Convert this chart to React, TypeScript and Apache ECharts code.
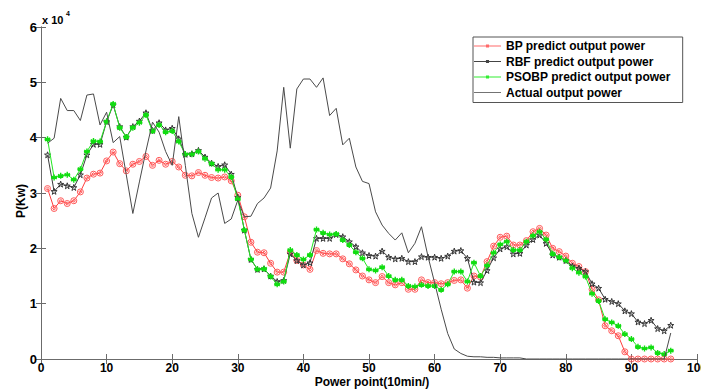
import React, { useEffect, useRef } from "react";
import * as echarts from "echarts";

// Power values in units of 10^4 kW, sample points 1..96 (10-min intervals)
const bpPower = [
  3.08, 2.72, 2.86, 2.81, 2.86, 3.02, 3.27, 3.34, 3.36, 3.58,
  3.74, 3.53, 3.40, 3.52, 3.57, 3.66, 3.50, 3.59, 3.52, 3.57,
  3.47, 3.32, 3.31, 3.37, 3.32, 3.28, 3.27, 3.29, 3.22, 2.96,
  2.57, 2.11, 1.93, 1.92, 1.73, 1.57, 1.57, 1.93, 1.78, 1.70,
  1.62, 1.96, 1.91, 1.90, 1.90, 1.81, 1.72, 1.61, 1.50, 1.43,
  1.38, 1.49, 1.38, 1.34, 1.38, 1.26, 1.26, 1.43, 1.38, 1.38,
  1.36, 1.38, 1.42, 1.43, 1.28, 1.50, 1.48, 1.76, 2.04, 2.20,
  2.22, 2.06, 2.06, 2.14, 2.30, 2.36, 2.24, 2.00, 1.94, 1.86,
  1.73, 1.67, 1.58, 1.26, 1.07, 0.60, 0.51, 0.42, 0.13, 0,
  0, 0, 0, 0, 0, 0,
];

const rbfPower = [
  3.69, 3.03, 3.16, 3.13, 3.10, 3.33, 3.69, 3.88, 3.88, 4.29,
  4.59, 4.20, 4.01, 4.20, 4.30, 4.45, 4.13, 4.27, 4.14, 4.17,
  3.98, 3.70, 3.71, 3.77, 3.65, 3.54, 3.48, 3.51, 3.34, 2.92,
  2.33, 1.80, 1.62, 1.63, 1.50, 1.40, 1.42, 1.90, 1.78, 1.70,
  1.74, 2.18, 2.18, 2.18, 2.25, 2.21, 2.12, 2.03, 1.92, 1.87,
  1.86, 1.95, 1.84, 1.81, 1.82, 1.76, 1.76, 1.85, 1.84, 1.84,
  1.82, 1.86, 1.95, 1.96, 1.82, 1.39, 1.38, 1.60, 1.83, 1.99,
  2.03, 1.90, 1.91, 2.06, 2.16, 2.24, 2.09, 1.88, 1.84, 1.78,
  1.68, 1.64, 1.58, 1.36, 1.28, 1.08, 1.04, 1.00, 0.87, 0.82,
  0.67, 0.64, 0.70, 0.55, 0.51, 0.61,
];

const psobpPower = [
  3.97, 3.28, 3.31, 3.33, 3.24, 3.43, 3.75, 3.94, 3.93, 4.29,
  4.61, 4.18, 4.01, 4.18, 4.27, 4.41, 4.12, 4.23, 4.10, 4.12,
  3.93, 3.70, 3.70, 3.75, 3.62, 3.53, 3.42, 3.42, 3.29, 2.89,
  2.33, 1.80, 1.62, 1.63, 1.49, 1.35, 1.40, 1.97, 1.88, 1.80,
  1.88, 2.34, 2.28, 2.25, 2.26, 2.15, 2.06, 1.93, 1.82, 1.62,
  1.60, 1.66, 1.50, 1.43, 1.43, 1.32, 1.31, 1.34, 1.32, 1.32,
  1.25, 1.35, 1.58, 1.58, 1.40, 1.74, 1.50, 1.69, 1.92, 2.07,
  2.12, 1.97, 1.97, 2.12, 2.23, 2.30, 2.16, 1.90, 1.84, 1.78,
  1.64, 1.56, 1.49, 1.18, 1.05, 0.72, 0.66, 0.60, 0.45, 0.36,
  0.22, 0.19, 0.21, 0.11, 0.09, 0.15,
];

const actualPower = [
  3.90, 3.99, 4.71, 4.49, 4.49, 4.31, 4.77, 4.79, 4.23, 4.46,
  3.91, 4.02, 3.33, 2.63, 3.20, 3.76, 4.28, 4.10, 3.75, 3.50,
  4.38, 3.50, 2.63, 2.20, 2.55, 2.91, 3.00, 2.45, 2.53, 2.87,
  2.57, 2.58, 2.81, 2.91, 3.09, 3.76, 4.91, 3.81, 4.88, 5.06,
  5.06, 4.91, 5.08, 4.40, 4.53, 3.87, 3.99, 3.47, 3.21, 3.17,
  2.66, 2.42, 2.27, 2.15, 2.28, 1.92, 2.09, 2.39, 1.85, 1.38,
  0.90, 0.46, 0.18, 0.10, 0.05, 0.04, 0.04, 0.03, 0.03, 0.02,
  0.02, 0.02, 0.02, 0, 0, 0, 0, 0, 0, 0,
  0, 0, 0, 0, 0, 0, 0, 0, 0, 0,
  0, 0, 0, 0, 0, 0.47,
];

const seriesNames = [
  "BP predict output power",
  "RBF predict output power",
  "PSOBP predict output power",
  "Actual output power",
];

const FONT = "'Liberation Sans', Arial, sans-serif";

const circleMark =
  "path://M0,-1 A1,1 0 1,1 0,1 A1,1 0 1,1 0,-1 Z M0,-0.55 L0.55,0 L0,0.55 L-0.55,0 Z";
const starMark =
  "path://M0,-1 L0.223,-0.307 L0.951,-0.309 L0.361,0.117 L0.588,0.809 L0,0.38 L-0.588,0.809 L-0.361,0.117 L-0.951,-0.309 L-0.223,-0.307 Z";
const asteriskMark =
  "path://M0,-1 L0,1 M-0.87,-0.5 L0.87,0.5 M-0.87,0.5 L0.87,-0.5 M-1,0 L1,0";

// legend icons: a line with a small marker in its middle, or a plain line
const legendLineWithMark =
  "path://M0,2.6 L28,2.6 L28,3.4 L0,3.4 Z M12.4,1.4 L15.6,1.4 L15.6,4.6 L12.4,4.6 Z";
const legendPlainLine = "path://M0,2.6 L28,2.6 L28,3.4 L0,3.4 Z";

function toPairs(values: number[]) {
  return values.map((v, i) => [i + 1, v]);
}

export default function App() {
  const ref = useRef<HTMLDivElement>(null);

  useEffect(() => {
    document.body.style.margin = "0";
    if (!ref.current) return;
    const chart = echarts.init(ref.current, null, { renderer: "svg" });

    const tickAxisBase = {
      type: "value" as const,
      axisLine: { show: true, lineStyle: { color: "#6b6b6b", width: 1 } },
      axisTick: { show: true, inside: true, length: 5, lineStyle: { color: "#6b6b6b" } },
      splitLine: { show: false },
    };

    chart.setOption({
      animation: false,
      backgroundColor: "#ffffff",
      grid: { left: 41, right: 4, top: 27, bottom: 30, containLabel: false, outerBoundsMode: "none" },
      xAxis: [
        {
          ...tickAxisBase,
          position: "bottom",
          min: 0,
          max: 100,
          interval: 10,
          axisLabel: { color: "#000", fontSize: 12, fontWeight: "bold", fontFamily: FONT, margin: 3, lineHeight: 12 },
        },
        {
          ...tickAxisBase,
          position: "top",
          min: 0,
          max: 100,
          interval: 10,
          axisLabel: { show: false },
        },
      ],
      yAxis: [
        {
          ...tickAxisBase,
          position: "left",
          min: 0,
          max: 6,
          interval: 1,
          axisLabel: { color: "#000", fontSize: 13, fontWeight: "bold", fontFamily: FONT, margin: 4 },
        },
        {
          ...tickAxisBase,
          position: "right",
          min: 0,
          max: 6,
          interval: 1,
          axisLabel: { show: false },
        },
      ],
      legend: {
        orient: "vertical",
        left: 473,
        top: 37,
        data: [
          { name: seriesNames[0], icon: legendLineWithMark, itemStyle: { color: "#ff6a6a", borderWidth: 0 } },
          { name: seriesNames[1], icon: legendLineWithMark, itemStyle: { color: "#444444", borderWidth: 0 } },
          { name: seriesNames[2], icon: legendLineWithMark, itemStyle: { color: "#33ee33", borderWidth: 0 } },
          { name: seriesNames[3], icon: legendPlainLine, itemStyle: { color: "#4a4a4a", borderWidth: 0 } },
        ],
        backgroundColor: "#ffffff",
        borderColor: "#555555",
        borderWidth: 1,
        borderRadius: 0,
        padding: [2, 12, 3, 1],
        itemGap: 1.5,
        itemWidth: 27,
        itemHeight: 6,
        textStyle: { color: "#000", fontSize: 12, fontWeight: "bold", fontFamily: FONT, lineHeight: 14 },
      },
      graphic: [
        {
          type: "text",
          left: 42,
          top: 14,
          style: { text: "x 10", font: `bold 11px ${FONT}`, fill: "#000" },
        },
        {
          type: "text",
          left: 66,
          top: 10,
          style: { text: "4", font: `bold 7px ${FONT}`, fill: "#000" },
        },
        {
          type: "text",
          x: 21,
          y: 201,
          rotation: Math.PI / 2,
          style: {
            text: "P(Kw)",
            font: `bold 12px ${FONT}`,
            fill: "#000",
            align: "center",
            verticalAlign: "middle",
          },
        },
        {
          type: "text",
          x: 372,
          y: 382,
          style: {
            text: "Power point(10min/)",
            font: `bold 12px ${FONT}`,
            fill: "#000",
            align: "center",
            verticalAlign: "middle",
          },
        },
      ],
      series: [
        {
          name: seriesNames[0],
          type: "line",
          data: toPairs(bpPower),
          symbol: circleMark,
          symbolSize: 6,
          showAllSymbol: true,
          lineStyle: { color: "#ff3c3c", width: 1 },
          itemStyle: { color: "rgba(255,255,255,0)", borderColor: "#ff5a5a", borderWidth: 1 },
          z: 3,
        },
        {
          name: seriesNames[1],
          type: "line",
          data: toPairs(rbfPower),
          symbol: starMark,
          symbolSize: 6,
          showAllSymbol: true,
          lineStyle: { color: "#3a3a3a", width: 1 },
          itemStyle: { color: "rgba(255,255,255,0)", borderColor: "#333333", borderWidth: 1 },
          z: 4,
        },
        {
          name: seriesNames[2],
          type: "line",
          data: toPairs(psobpPower),
          symbol: asteriskMark,
          symbolSize: 6,
          showAllSymbol: true,
          lineStyle: { color: "#22e622", width: 1 },
          itemStyle: { color: "#22e622", borderColor: "#11dd11", borderWidth: 1.4 },
          z: 5,
        },
        {
          name: seriesNames[3],
          type: "line",
          data: toPairs(actualPower),
          symbol: "none",
          showSymbol: false,
          lineStyle: { color: "#4a4a4a", width: 1 },
          itemStyle: { color: "#4a4a4a" },
          z: 6,
        },
      ],
    });

    return () => chart.dispose();
  }, []);

  return (
    <div
      ref={ref}
      style={{ width: 701, height: 389, position: "absolute", left: 0, top: 0 }}
    />
  );
}
